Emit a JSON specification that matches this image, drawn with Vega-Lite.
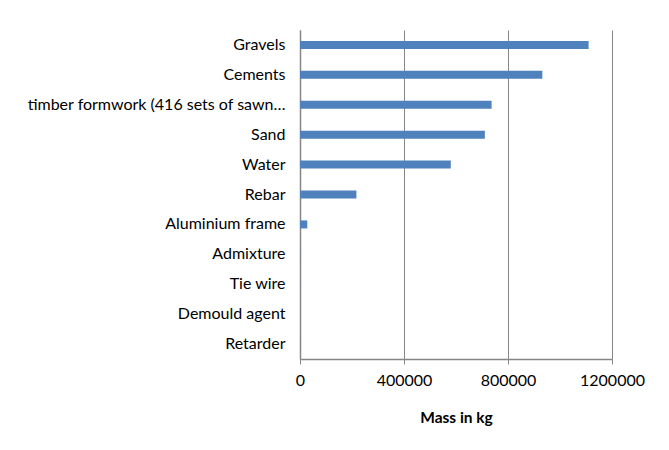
{
  "$schema": "https://vega.github.io/schema/vega-lite/v6.json",
  "width": 312,
  "height": 329,
  "autosize": {"type": "none"},
  "padding": {"left": 300, "top": 30, "right": 57, "bottom": 91},
  "background": "white",
  "data": {
    "values": [
      {"material": "Gravels", "mass": 1110000},
      {"material": "Cements", "mass": 932000},
      {"material": "timber formwork (416 sets of sawn…", "mass": 737000},
      {"material": "Sand", "mass": 711000},
      {"material": "Water", "mass": 580000},
      {"material": "Rebar", "mass": 217000},
      {"material": "Aluminium frame", "mass": 28000},
      {"material": "Admixture", "mass": 600},
      {"material": "Tie wire", "mass": 300},
      {"material": "Demould agent", "mass": 150},
      {"material": "Retarder", "mass": 100}
    ]
  },
  "mark": {"type": "bar", "color": "#4F81BD", "size": 8},
  "encoding": {
    "y": {
      "field": "material",
      "type": "nominal",
      "sort": null,
      "scale": {"paddingInner": 0, "paddingOuter": 0},
      "axis": {
        "title": null,
        "ticks": false,
        "domainColor": "#868686",
        "domainWidth": 1.5,
        "labelPadding": 15,
        "labelFont": "Lato",
        "labelFontSize": 16,
        "labelColor": "#000000",
        "labelLimit": 300
      }
    },
    "x": {
      "field": "mass",
      "type": "quantitative",
      "scale": {"domain": [0, 1200000], "nice": false},
      "axis": {
        "title": "Mass in kg",
        "titleFont": "Lato",
        "titleFontSize": 15.5,
        "titleFontWeight": "bold",
        "titleColor": "#000000",
        "titlePadding": 22,
        "values": [0, 400000, 800000, 1200000],
        "format": "d",
        "labelFont": "Lato",
        "labelFontSize": 16,
        "labelColor": "#000000",
        "labelPadding": 8,
        "labelFlush": false,
        "labelOverlap": false,
        "tickColor": "#868686",
        "tickSize": 5,
        "domainColor": "#868686",
        "domainWidth": 1.5,
        "grid": true,
        "gridColor": "#868686",
        "gridWidth": 1
      }
    }
  },
  "config": {"view": {"stroke": null}}
}
